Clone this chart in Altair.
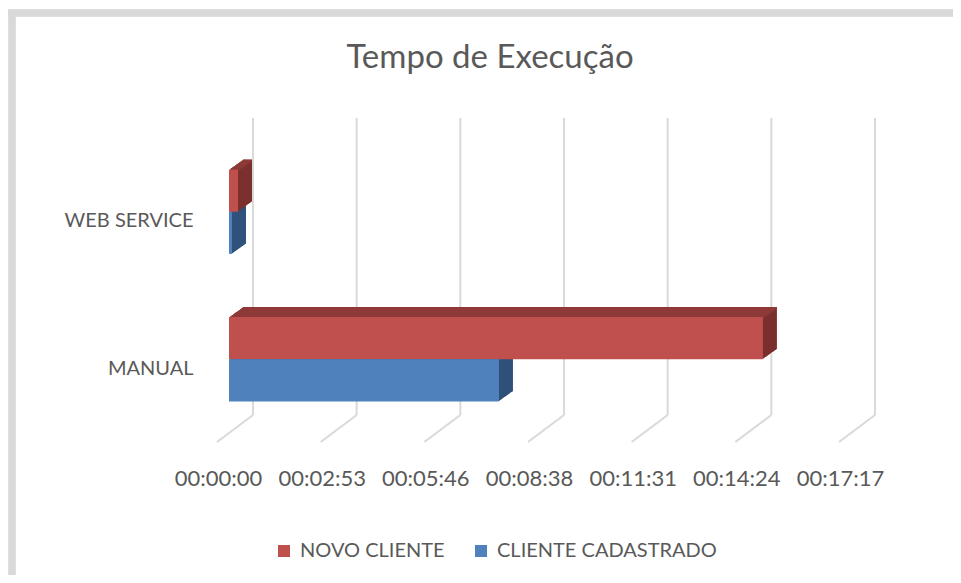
import json
import altair as alt
import pandas as pd

# ---------------- data ----------------
categories = ["WEB SERVICE", "MANUAL"]
series_names = ["NOVO CLIENTE", "CLIENTE CADASTRADO"]
novo_cliente = ["00:00:15", "00:14:50"]
cliente_cadastrado = ["00:00:05", "00:07:30"]
tick_values = [0, 172.8, 345.6, 518.4, 691.2, 864.0, 1036.8]
tick_labels = ["00:00:00", "00:02:53", "00:05:46", "00:08:38",
               "00:11:31", "00:14:24", "00:17:17"]


def secs(t):
    h, m, s = map(int, t.split(":"))
    return h * 3600 + m * 60 + s


rows = []
for ci, cat in enumerate(categories):
    for si, (name, vals) in enumerate(zip(series_names, [novo_cliente, cliente_cadastrado])):
        rows.append({"categoria": cat, "serie": name, "tempo": vals[ci],
                     "segundos": secs(vals[ci]), "ci": ci, "si": si})
df = pd.DataFrame(rows)
ticks_df = pd.DataFrame({"valor": tick_values, "rotulo": tick_labels})

# ---------------- style ----------------
FONT = "Lato"
TXT = "#595959"
GRID = "#D9D9D9"
front_colors = ["#C0504D", "#4F81BD"]
side_colors = ["#7B302E", "#30517A"]
top_colors = ["#8E3A38", "#385D8A"]
W, H = 622, 295
GAP = 3.5          # band units between category groups
DEPTH = 14         # pixel depth of the 3-D extrusion
SLOPE = 10 / 14

xs = alt.Scale(domain=[0, tick_values[-1]], nice=False, zero=False)
ys = alt.Scale(domain=[-0.75, 6.25], reverse=True, nice=False, zero=False)

cat_js = json.dumps(categories)
lab_js = json.dumps(tick_labels)

x_axis = alt.Axis(values=tick_values, labelExpr=f"{lab_js}[round(datum.value / {tick_values[1]})]",
                  domain=False, ticks=False, tickSize=0, grid=False,
                  labelFont=FONT, labelFontSize=22, labelColor=TXT,
                  labelPadding=35, labelOffset=-11, labelFlush=False)
y_axis = alt.Axis(values=[ci * GAP + 1 for ci in range(len(categories))],
                  labelExpr=f"{cat_js}[round((datum.value - 1) / {GAP})]",
                  domain=False, ticks=False, tickSize=0, grid=False,
                  labelFont=FONT, labelFontSize=20, labelColor=TXT,
                  labelPadding=36, labelOffset=9)


def X(field):
    return alt.X(field, scale=xs, axis=x_axis, title=None)


def Y(field):
    return alt.Y(field, scale=ys, axis=y_axis, title=None)


base = alt.Chart(df).transform_calculate(
    y0=f"datum.ci * {GAP} + datum.si",
    y1=f"datum.ci * {GAP} + datum.si + 1",
)

# gridlines (back wall + floor diagonals)
grid_v = alt.Chart(ticks_df).mark_rule(color=GRID, strokeWidth=2, xOffset=24).encode(
    x=X("valor:Q"), y=alt.value(-20), y2=alt.value(277),
)
grid_d = alt.Chart(ticks_df).mark_rule(color=GRID, strokeWidth=2, xOffset=24, x2Offset=-12).encode(
    x=X("valor:Q"), x2="valor:Q", y=alt.value(277), y2=alt.value(304),
)

# chart frame (top and left border)
frame_top = alt.Chart(ticks_df).mark_rule(color=GRID, strokeWidth=6.5).encode(
    x=alt.value(-222), x2=alt.value(740), y=alt.value(-125))
frame_left = alt.Chart(ticks_df).mark_rule(color=GRID, strokeWidth=6.5).encode(
    x=alt.value(-217), y=alt.value(-128), y2=alt.value(460))

layers = [frame_top, frame_left, grid_v, grid_d]

# 3-D extrusion: blue first so red covers it
for s in [1, 0]:
    sub = base.transform_filter(f"datum.si == {s}")
    for i in range(DEPTH, 0, -1):
        dy = -SLOPE * i
        layers.append(sub.mark_rect(color=side_colors[s], xOffset=i, x2Offset=i,
                                    yOffset=dy, y2Offset=dy).encode(
            x=X("segundos:Q"), x2=alt.datum(0), y=Y("y0:Q"), y2="y1:Q"))
    for i in range(DEPTH, 0, -1):
        dy = -SLOPE * i
        layers.append(sub.mark_rect(color=top_colors[s], xOffset=i, x2Offset=i,
                                    yOffset=dy, y2Offset=dy + 1.6).encode(
            x=X("segundos:Q"), x2=alt.datum(0), y=Y("y0:Q"), y2="y0:Q"))

front = base.mark_rect().encode(
    x=X("segundos:Q"),
    x2=alt.datum(0),
    y=Y("y0:Q"),
    y2="y1:Q",
    color=alt.Color("serie:N", scale=alt.Scale(domain=series_names, range=front_colors),
                    legend=alt.Legend(orient="none", legendX=45, legendY=403,
                                      direction="horizontal", title=None,
                                      symbolType="square", symbolSize=144,
                                      symbolStrokeWidth=0, labelFont=FONT,
                                      labelFontSize=20, labelColor=TXT, labelLimit=0,
                                      columnPadding=26, labelOffset=6)),
    tooltip=["categoria:N", "serie:N", "tempo:N"],
)
layers.append(front)

chart = alt.layer(*layers).properties(
    width=W, height=H,
    title=alt.TitleParams("Tempo de Execução", font=FONT, fontSize=33, color=TXT,
                          fontWeight="normal", anchor="middle", dx=-50, offset=-94,
                          baseline="alphabetic", frame="group"),
    autosize=alt.AutoSizeParams(type="none"),
    padding={"left": 221, "top": 130, "right": 102, "bottom": 142},
    background="white",
).configure_view(stroke="transparent", strokeWidth=0)

chart.save("out.html", embed_options={"renderer": "svg", "actions": False})
